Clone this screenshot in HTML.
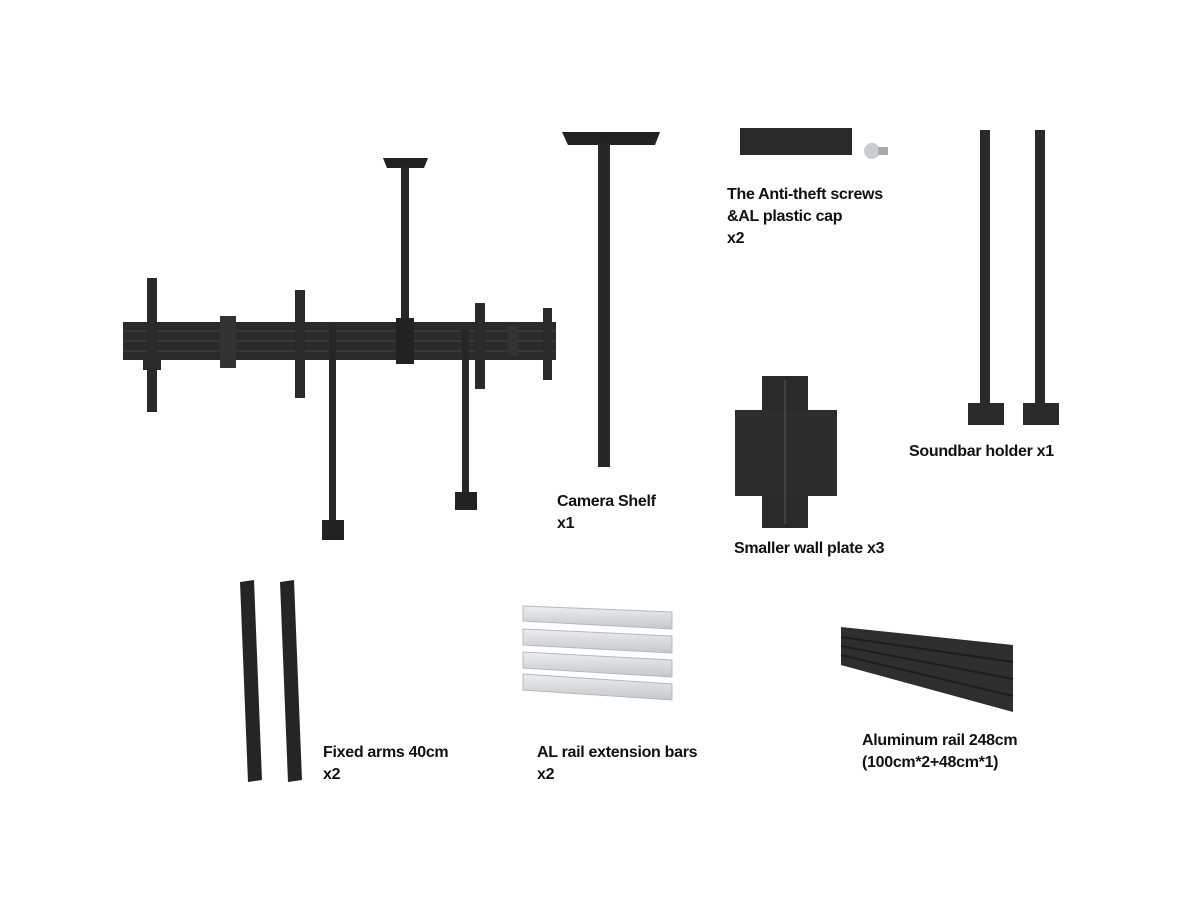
<!DOCTYPE html>
<html><head><meta charset="utf-8"><style>
body{margin:0;background:#fff;width:1200px;height:900px;overflow:hidden;position:relative;font-family:"Liberation Sans",sans-serif}
.t{position:absolute;font-weight:bold;font-size:16px;line-height:22px;color:#111;letter-spacing:-0.3px}
svg{position:absolute;left:0;top:0}
</style></head><body>
<svg width="1200" height="900" viewBox="0 0 1200 900">
<defs>
<linearGradient id="al" x1="0" y1="0" x2="0" y2="1"><stop offset="0" stop-color="#eceef0"/><stop offset="1" stop-color="#c4c8cc"/></linearGradient>
</defs>
<rect x="123" y="322" width="433" height="38" fill="#2b2b2b"/>
<line x1="123" y1="331" x2="556" y2="331" stroke="#444"/>
<line x1="123" y1="341" x2="556" y2="341" stroke="#444"/>
<line x1="123" y1="351" x2="556" y2="351" stroke="#444"/>
<rect x="147" y="278" width="10" height="134" fill="#2a2a2a"/>
<rect x="143" y="360" width="18" height="10" fill="#2a2a2a"/>
<rect x="295" y="290" width="10" height="108" fill="#2a2a2a"/>
<rect x="220" y="316" width="16" height="52" fill="#333"/>
<rect x="475" y="303" width="10" height="86" fill="#2a2a2a"/>
<rect x="543" y="308" width="9" height="72" fill="#2a2a2a"/>
<rect x="508" y="326" width="10" height="30" fill="#333"/>
<polygon points="383,158 428,158 424,168 387,168" fill="#222"/>
<rect x="401" y="166" width="8" height="196" fill="#262626"/>
<rect x="396" y="318" width="18" height="46" fill="#222"/>
<rect x="329" y="325" width="7" height="210" fill="#262626"/>
<rect x="322" y="520" width="22" height="20" fill="#222"/>
<rect x="462" y="330" width="7" height="175" fill="#262626"/>
<rect x="455" y="492" width="22" height="18" fill="#222"/>
<polygon points="562,132 660,132 655,145 568,145" fill="#222"/>
<rect x="598" y="143" width="12" height="324" fill="#272727"/>
<rect x="740" y="128" width="112" height="27" fill="#2a2a2a"/>
<circle cx="872" cy="151" r="8" fill="#c9ccd0"/>
<rect x="878" y="147" width="10" height="8" fill="#aaa"/>
<rect x="980" y="130" width="10" height="282" fill="#2a2a2a"/>
<rect x="968" y="403" width="36" height="22" fill="#2a2a2a"/>
<rect x="1035" y="130" width="10" height="282" fill="#2a2a2a"/>
<rect x="1023" y="403" width="36" height="22" fill="#2a2a2a"/>
<rect x="762" y="376" width="46" height="152" fill="#2a2a2a"/>
<rect x="735" y="410" width="102" height="86" fill="#2d2d2d"/>
<line x1="785" y1="380" x2="785" y2="524" stroke="#555"/>
<polygon points="240,582 254,580 262,780 248,782" fill="#252525"/>
<polygon points="280,582 294,580 302,780 288,782" fill="#252525"/>
<g fill="url(#al)" stroke="#b4b8bc">
<polygon points="523,606 672,612 672,629 523,621"/>
<polygon points="523,629 672,636 672,653 523,645"/>
<polygon points="523,652 672,660 672,677 523,668"/>
<polygon points="523,674 672,684 672,700 523,690"/>
</g>
<polygon points="841,627 1013,645 1013,712 841,665" fill="#2e2e2e"/>
<line x1="841" y1="637" x2="1013" y2="662" stroke="#1c1c1c" stroke-width="2"/>
<line x1="841" y1="646" x2="1013" y2="679" stroke="#1c1c1c" stroke-width="2"/>
<line x1="841" y1="655" x2="1013" y2="696" stroke="#1c1c1c" stroke-width="2"/>
</svg>
<div class="t" style="left:727px;top:184px">The Anti-theft screws<br>&amp;AL plastic cap<br>x2</div>
<div class="t" style="left:909px;top:441px">Soundbar holder x1</div>
<div class="t" style="left:557px;top:491px">Camera Shelf<br>x1</div>
<div class="t" style="left:734px;top:538px">Smaller wall plate x3</div>
<div class="t" style="left:323px;top:742px">Fixed arms 40cm<br>x2</div>
<div class="t" style="left:537px;top:742px">AL rail extension bars<br>x2</div>
<div class="t" style="left:862px;top:730px">Aluminum rail 248cm<br>(100cm*2+48cm*1)</div>
</body></html>
